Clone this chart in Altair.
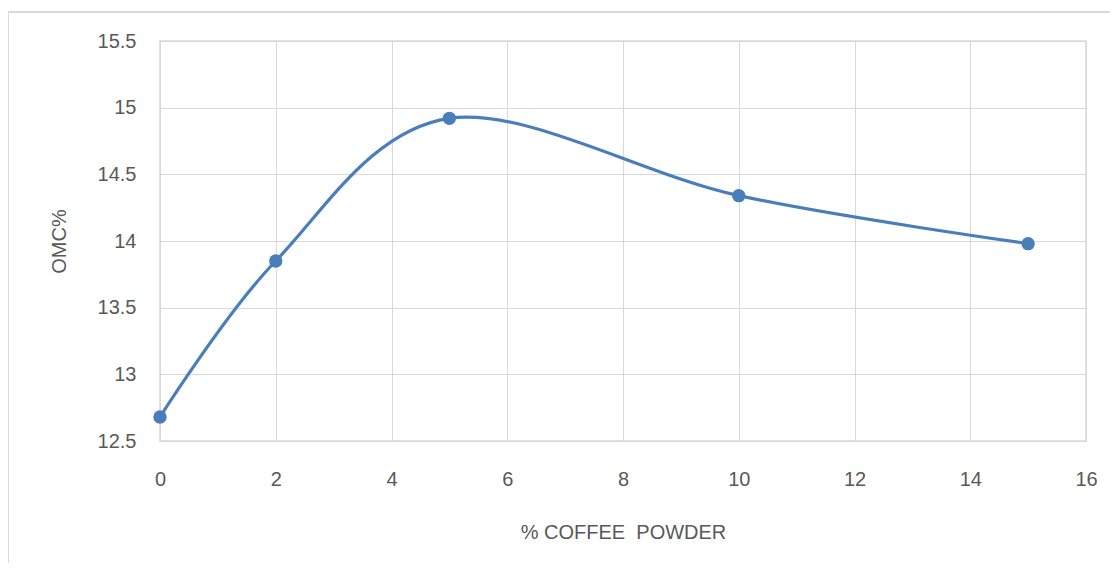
import altair as alt
import pandas as pd

coffee = [0, 2, 5, 10, 15]
omc = [12.68, 13.85, 14.92, 14.34, 13.98]

df = pd.DataFrame({"coffee": coffee, "omc": omc})

FONT = "Liberation Sans"
TXT = "#595959"
GRID = "#D9D9D9"
BLUE = "#4A7EBB"

x = alt.X("coffee:Q", scale=alt.Scale(domain=[0, 16], nice=False),
          axis=alt.Axis(values=list(range(0, 17, 2)), title="% COFFEE\u00a0 POWDER",
                        titlePadding=33, labelPadding=28, ticks=False,
                        domainColor=GRID, gridColor=GRID, labelFlush=False))
y = alt.Y("omc:Q", scale=alt.Scale(domain=[12.5, 15.5], nice=False, zero=False),
          axis=alt.Axis(values=[12.5, 13, 13.5, 14, 14.5, 15, 15.5], title="OMC%",
                        format="~g",
                        titlePadding=28, labelPadding=24, ticks=False,
                        domainColor=GRID, gridColor=GRID, labelFlush=False))

line = alt.Chart(df).mark_line(color=BLUE, strokeWidth=3.2, interpolate="cardinal").encode(x=x, y=y)
pts = alt.Chart(df).mark_point(filled=True, color=BLUE, size=180, opacity=1).encode(x=x, y=y)

border_v = alt.Chart(df).mark_rule(color=GRID, strokeWidth=2).encode(
    x=alt.value(-152), y=alt.value(-29), y2=alt.value(600))
border_h = alt.Chart(df).mark_rule(color=GRID, strokeWidth=2).encode(
    x=alt.value(-153), x2=alt.value(1000), y=alt.value(-29))

chart = alt.layer(border_v, border_h, line, pts).properties(
    width=926, height=400,
    padding={"left": 152, "top": 33, "right": 24, "bottom": 122},
    autosize=alt.AutoSizeParams(type="none"),
).configure_view(stroke=GRID, strokeWidth=1.5).configure_axis(
    labelFont=FONT, titleFont=FONT, labelFontSize=20, titleFontSize=20,
    labelColor=TXT, titleColor=TXT, titleFontWeight="normal",
)

chart.save("out.html", embed_options={"renderer": "svg", "actions": False})
